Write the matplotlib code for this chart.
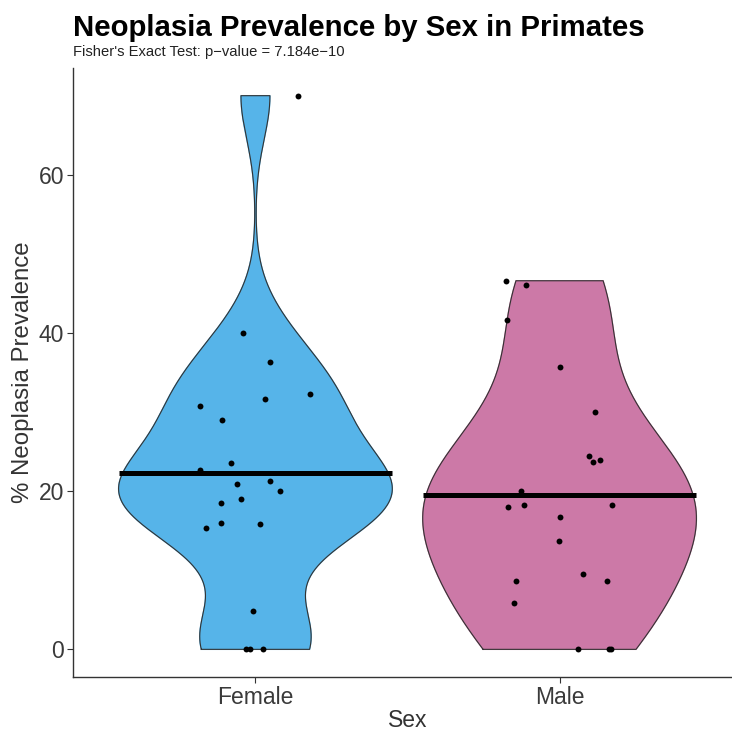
import numpy as np
import matplotlib.pyplot as plt

plt.rcParams['font.family'] = ['Liberation Sans', 'DejaVu Sans']

# data
groups = ['Female', 'Male']
female_prev = [70.0, 40.0, 36.3, 32.3, 31.6, 30.8, 29.0, 23.5, 22.7, 21.3, 20.9,
               20.0, 19.0, 18.5, 16.0, 15.4, 15.8, 4.8, 0.0, 0.0, 0.0]
female_jitter = [0.141, -0.042, 0.047, 0.18, 0.031, -0.183, -0.111, -0.079, -0.181, 0.048,
                 -0.06, 0.082, -0.049, -0.112, -0.112, -0.164, 0.016, -0.009, -0.031, -0.017, 0.026]
male_prev = [46.6, 46.1, 41.7, 35.7, 30.0, 24.4, 23.7, 23.9, 20.0, 18.0, 18.2,
             18.2, 16.7, 13.7, 9.5, 8.65, 8.65, 5.9, 0.0, 0.0, 0.0]
male_jitter = [-0.177, -0.111, -0.173, 0.003, 0.116, 0.098, 0.111, 0.132, -0.126, -0.17, -0.116,
               0.171, 0.001, -0.003, 0.077, -0.144, 0.157, -0.149, 0.062, 0.162, 0.168]
colors = ['#56B4E9', '#CC79A7']
bw_adjust = [1.0, 1.35]


def kde_nrd0(vals, grid, adjust=1.0):
    vals = np.asarray(vals)
    n = len(vals)
    q75, q25 = np.percentile(vals, [75, 25])
    bw = adjust * 0.9 * min(vals.std(ddof=1), (q75 - q25) / 1.34) * n ** -0.2
    z = (grid[:, None] - vals[None, :]) / bw
    return np.exp(-0.5 * z ** 2).sum(axis=1) / (n * bw * np.sqrt(2 * np.pi))


fig = plt.figure(figsize=(7.32, 7.32), dpi=100)
ax = fig.add_axes([0.0997, 0.0751, 0.914, 0.832])

data = [female_prev, male_prev]
jit = [female_jitter, male_jitter]
for i, (vals, jj, col) in enumerate(zip(data, jit, colors)):
    pos = i + 1
    grid = np.linspace(min(vals), max(vals), 512)
    dens = kde_nrd0(vals, grid, bw_adjust[i])
    half = dens / dens.max() * 0.45
    xs = np.concatenate([pos - half, (pos + half)[::-1], [pos - half[0]]])
    ys = np.concatenate([grid, grid[::-1], [grid[0]]])
    ax.fill(xs, ys, color=col, zorder=1)
    ax.plot(xs, ys, color='#333333', lw=0.8, zorder=2)
    ax.scatter(pos + np.array(jj), vals, s=18, color='black', zorder=3, linewidths=0)
    m = np.mean(vals)
    ax.plot([pos - 0.45, pos + 0.45], [m, m], color='black', lw=3.6, zorder=4,
            solid_capstyle='butt')

ax.set_xlim(0.4, 2.6)
ax.set_ylim(-3.5, 73.5)
ax.set_xticks([1, 2])
ax.set_xticklabels(groups)
ax.set_yticks([0, 20, 40, 60])
ax.tick_params(labelsize=16.5, colors='#333333', length=4, width=0.8, labelcolor='#3A3A3A',
               pad=2.5)
ax.spines['top'].set_visible(False)
ax.spines['right'].set_visible(False)
for s in ['left', 'bottom']:
    ax.spines[s].set_linewidth(1.0)
    ax.spines[s].set_color('#333333')
ax.set_xlabel('Sex', fontsize=16.5, color='#333333', labelpad=0)
ax.set_ylabel('% Neoplasia Prevalence', fontsize=17.3, color='#333333', labelpad=3)

fig.text(0.0997, 0.951, 'Neoplasia Prevalence by Sex in Primates', fontsize=21.2,
         fontweight='bold', ha='left', va='baseline')
fig.text(0.0997, 0.923, "Fisher's Exact Test: p\u2212value = 7.184e\u221210", fontsize=10.6,
         ha='left', va='baseline', color='#222222')

fig.savefig('out.png', dpi=100)
